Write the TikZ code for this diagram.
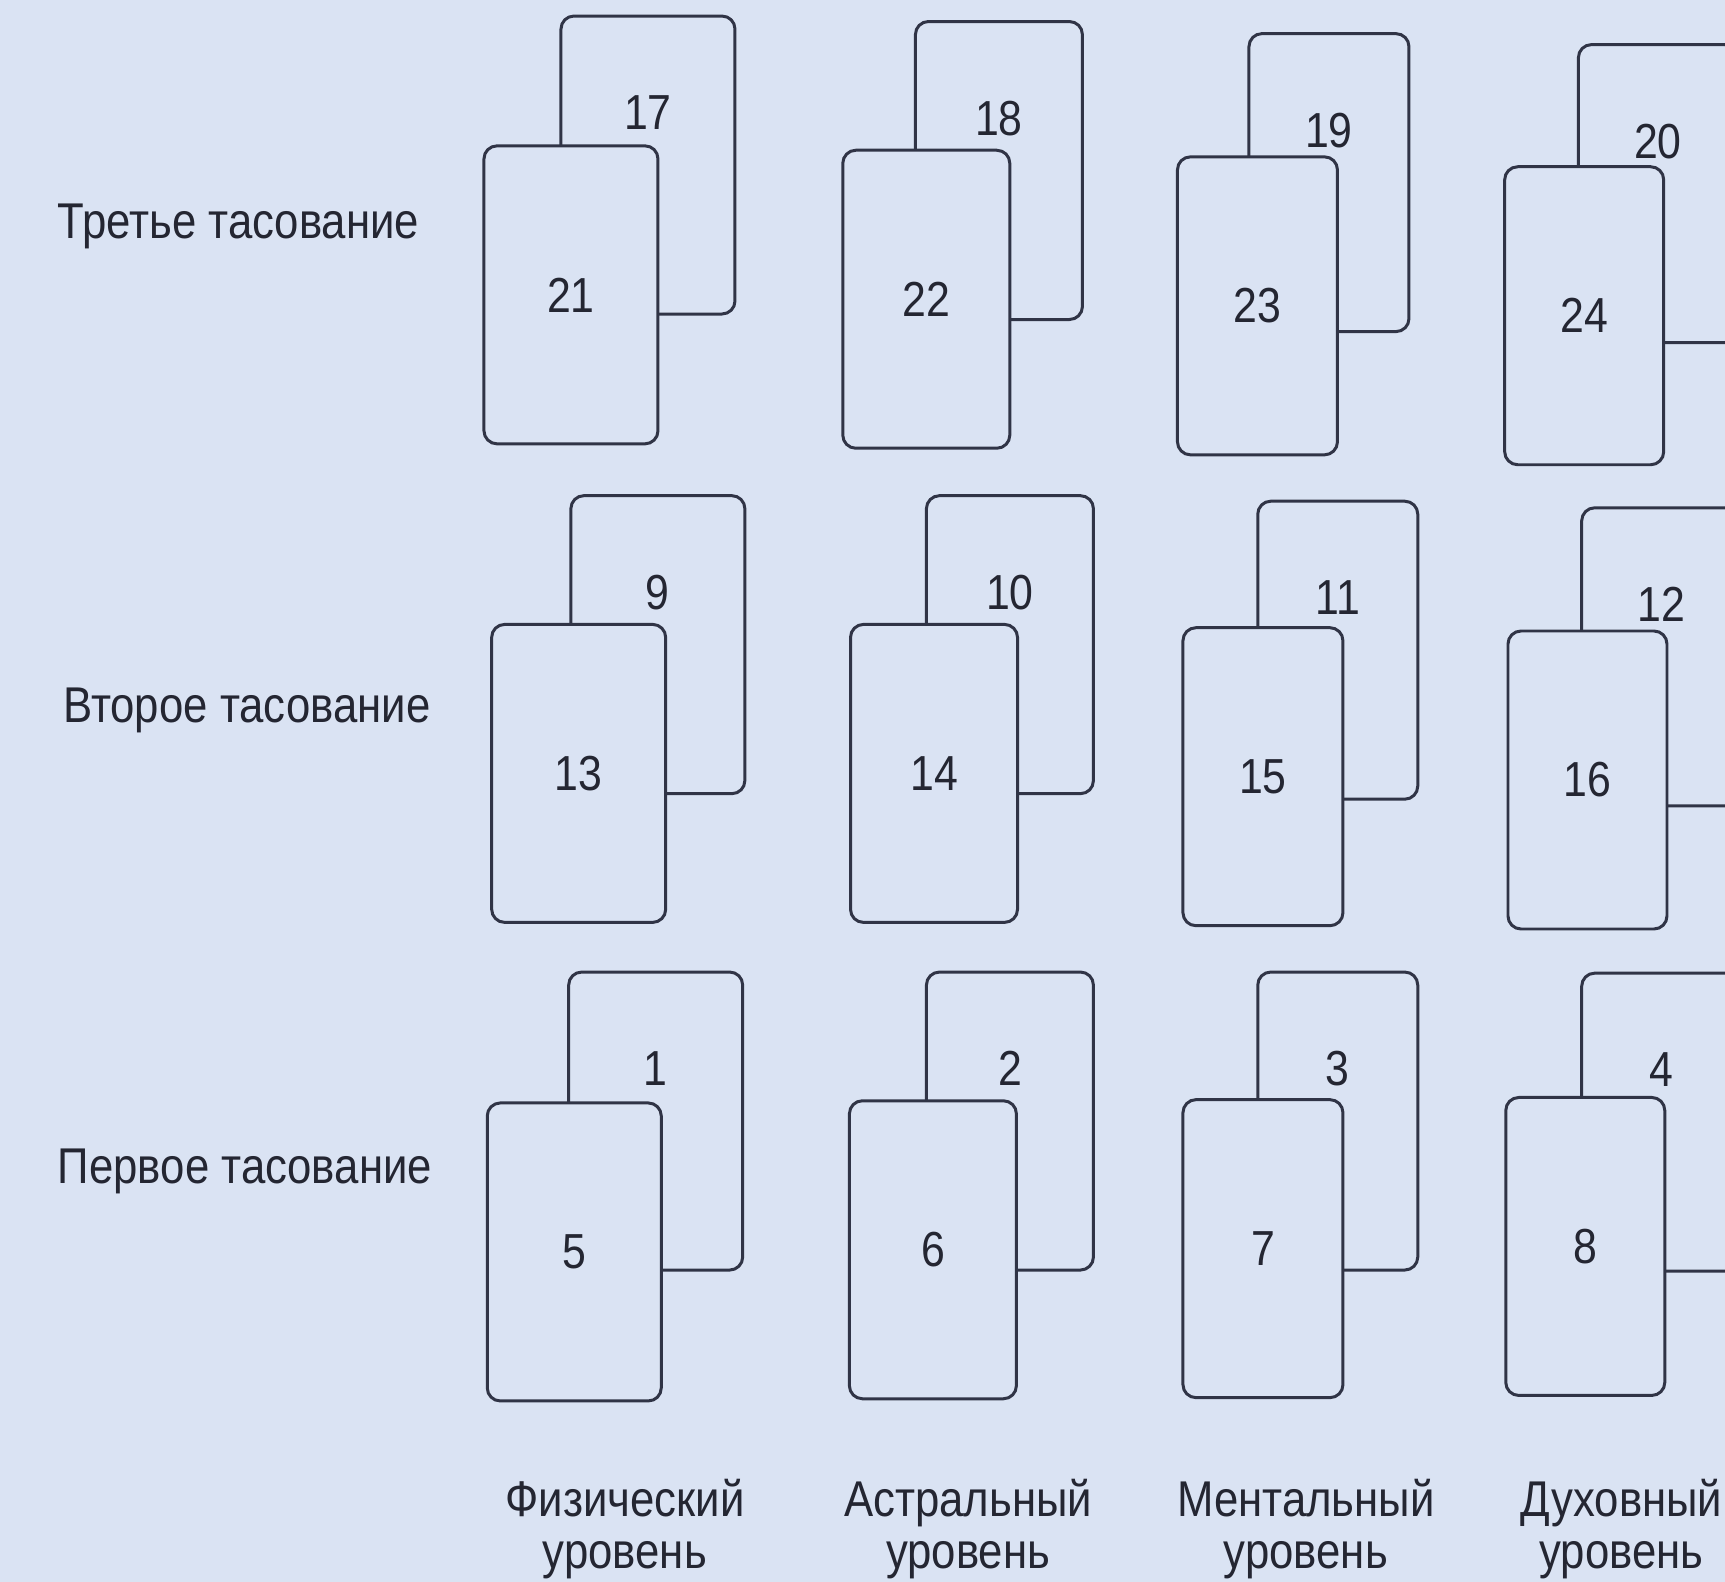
\documentclass[tikz,border=0pt]{standalone}
\usepackage{fontspec}
\setmainfont{Liberation Sans}[FakeStretch=0.87]
\usetikzlibrary{positioning}
\definecolor{pagec}{RGB}{218,227,243}
\definecolor{inkc}{RGB}{48,52,70}
\definecolor{textc}{RGB}{36,38,50}

\begin{document}
\begin{tikzpicture}[x=0.011cm, y=-0.011cm,
		card/.style={draw=inkc, fill=pagec, line width=0.85pt, rounded corners=1.3mm, minimum height=2.98cm, inner sep=0pt, text=textc, font=\fontsize{14}{16}\selectfont},
		wa/.style={minimum width=1.74cm},
		wb/.style={minimum width=1.67cm},
		wc/.style={minimum width=1.6cm},
		wd/.style={minimum width=1.59cm},
		num/.style={inner sep=0pt, text=textc, font=\fontsize{14}{16}\selectfont},
		rowlab/.style={anchor=base west, inner sep=0pt, text=textc, font=\fontsize{14.3}{17}\selectfont},
		levlab/.style={anchor=north, align=center, inner sep=0pt, text=textc, font=\fontsize{14.3}{14.7}\selectfont}]
				\useasboundingbox (0,0) rectangle (1568,1438);
				\fill[pagec] (0,0) rectangle (1568,1438);
				% third shuffle
				\node[card, wa] (b17) at (589,150) {};
				\node[num, below=0.8cm of b17.north] (n17) {17};
				\node[card, wa] (f21) at (519,268) {21};
				\node[card, wb] (b18) at (908,155) {};
				\node[num, below=0.8cm of b18.north] (n18) {18};
				\node[card, wb] (f22) at (842,272) {22};
				\node[card, wc] (b19) at (1208,166) {};
				\node[num, below=0.8cm of b19.north] (n19) {19};
				\node[card, wc] (f23) at (1143,278) {23};
				\node[card, wd] (b20) at (1507,176) {};
				\node[num, below=0.8cm of b20.north] (n20) {20};
				\node[card, wd] (f24) at (1440,287) {24};
				% second shuffle
				\node[card, wa] (b9) at (598,586) {};
				\node[num, below=0.8cm of b9.north] (n9) {9};
				\node[card, wa] (f13) at (526,703) {13};
				\node[card, wb] (b10) at (918,586) {};
				\node[num, below=0.8cm of b10.north] (n10) {10};
				\node[card, wb] (f14) at (849,703) {14};
				\node[card, wc] (b11) at (1216,591) {};
				\node[num, below=0.8cm of b11.north] (n11) {11};
				\node[card, wc] (f15) at (1148,706) {15};
				\node[card, wd] (b12) at (1510,597) {};
				\node[num, below=0.8cm of b12.north] (n12) {12};
				\node[card, wd] (f16) at (1443,709) {16};
				% first shuffle
				\node[card, wa] (b1) at (596,1019) {};
				\node[num, below=0.8cm of b1.north] (n1) {1};
				\node[card, wa] (f5) at (522,1138) {5};
				\node[card, wb] (b2) at (918,1019) {};
				\node[num, below=0.8cm of b2.north] (n2) {2};
				\node[card, wb] (f6) at (848,1136) {6};
				\node[card, wc] (b3) at (1216,1019) {};
				\node[num, below=0.8cm of b3.north] (n3) {3};
				\node[card, wc] (f7) at (1148,1135) {7};
				\node[card, wd] (b4) at (1510,1020) {};
				\node[num, below=0.8cm of b4.north] (n4) {4};
				\node[card, wd] (f8) at (1441,1133) {8};
				% labels
				\node[rowlab] (third) at (52,217) {Третье тасование};
				\node[rowlab] (second) at (57,657) {Второе тасование};
				\node[rowlab] (first) at (52,1076) {Первое тасование};
				\node[levlab] (phys) at (568,1344) {Физический\\уровень};
				\node[levlab] (astr) at (880,1344) {Астральный\\уровень};
				\node[levlab] (ment) at (1187,1344) {Ментальный\\уровень};
				\node[levlab] (spir) at (1474,1344) {Духовный\\уровень};
			\end{tikzpicture}
\end{document}
